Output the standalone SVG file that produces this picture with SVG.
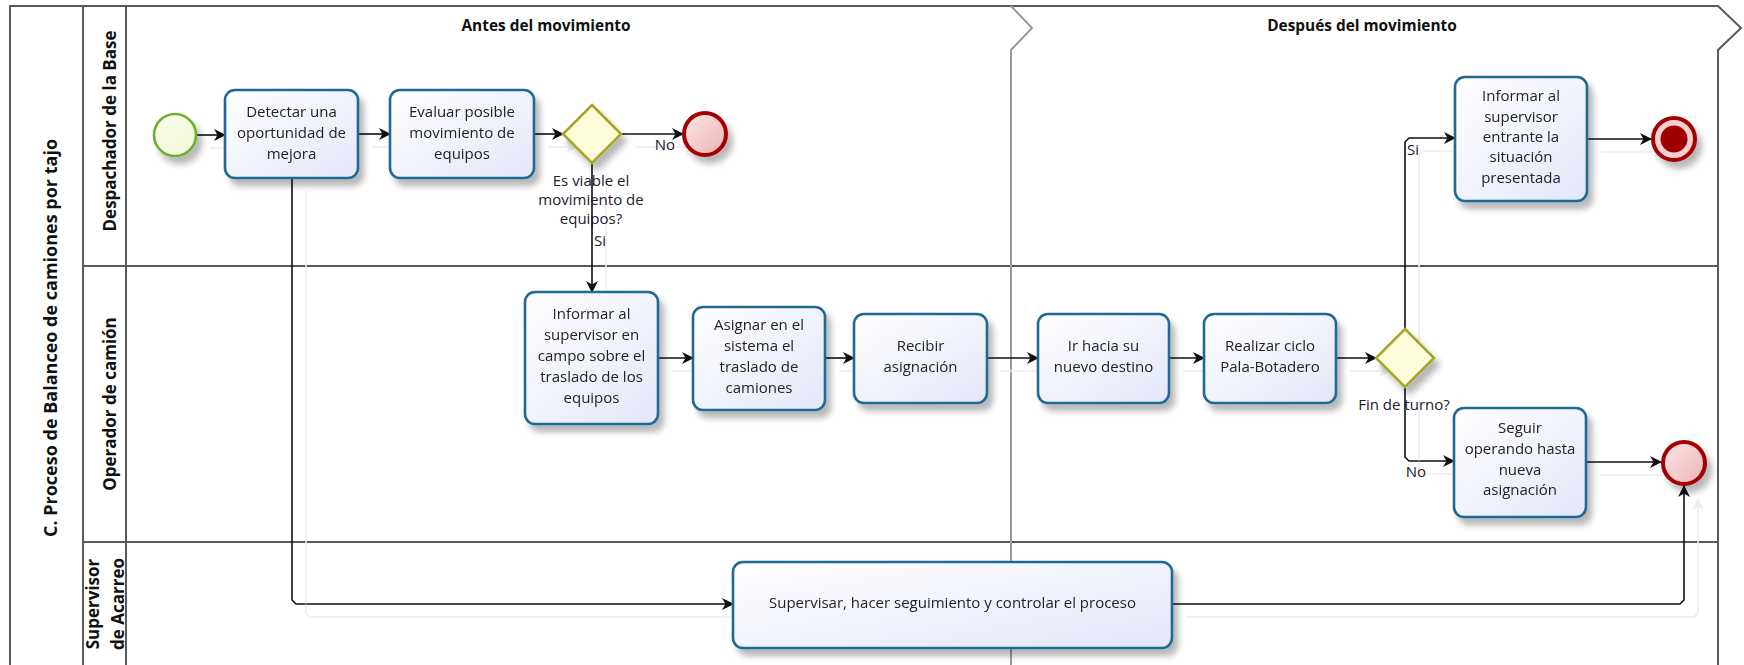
<svg xmlns="http://www.w3.org/2000/svg" width="1744" height="665" viewBox="0 0 1744 665">
<defs>
<style>
.t{font-family:"Open Sans","Liberation Sans",sans-serif;font-size:15px;fill:#22202e;text-anchor:middle}
.lbl{font-family:"Open Sans","Liberation Sans",sans-serif;font-size:15px;fill:#22202e;text-anchor:middle}
.hdr{font-family:"Open Sans","Liberation Sans",sans-serif;font-size:15.4px;font-weight:bold;fill:#111;text-anchor:middle}
.lane{font-family:"Open Sans","Liberation Sans",sans-serif;font-size:17px;font-weight:bold;fill:#111;text-anchor:middle}
.title{font-family:"Open Sans","Liberation Sans",sans-serif;font-size:18px;font-weight:bold;fill:#111;text-anchor:middle}
.task{fill:url(#gTask);stroke:#1e6a95;stroke-width:2.6}
.gw{fill:#fdfddc;stroke:#a6a626;stroke-width:2.6}
.end{fill:url(#gEnd);stroke:#a30000;stroke-width:4}
.start{fill:url(#gStart);stroke:#6cb02c;stroke-width:2.6}
.cn{fill:none;stroke:#111;stroke-width:1.6}
.pool{fill:none;stroke:#5a5a5a;stroke-width:2}
.phase{fill:none;stroke:#9a9a9a;stroke-width:2}
</style>
<linearGradient id="gTask" x1="0" y1="0" x2="1" y2="1">
<stop offset="0" stop-color="#ffffff"/><stop offset="1" stop-color="#e3e7f8"/>
</linearGradient>
<linearGradient id="gEnd" x1="0" y1="0" x2="1" y2="1">
<stop offset="0" stop-color="#fbe6e6"/><stop offset="1" stop-color="#eeb4b4"/>
</linearGradient>
<linearGradient id="gStart" x1="0" y1="0" x2="1" y2="1">
<stop offset="0" stop-color="#fbfdf0"/><stop offset="1" stop-color="#eef7d2"/>
</linearGradient>
<filter id="sh" x="-20%" y="-20%" width="150%" height="160%">
<feGaussianBlur in="SourceAlpha" stdDeviation="3"/>
<feOffset dx="5" dy="7"/>
<feComponentTransfer><feFuncA type="linear" slope="0.28"/></feComponentTransfer>
<feMerge><feMergeNode/><feMergeNode in="SourceGraphic"/></feMerge>
</filter>
<filter id="lsh" filterUnits="userSpaceOnUse" x="0" y="0" width="1744" height="665">
<feOffset in="SourceAlpha" dx="14" dy="13" result="o"/>
<feFlood flood-color="#ededed"/>
<feComposite in2="o" operator="in"/>
<feMerge><feMergeNode/><feMergeNode in="SourceGraphic"/></feMerge>
</filter>
<marker id="arr" viewBox="0 0 12 12" refX="11" refY="6" markerWidth="12" markerHeight="12" markerUnits="userSpaceOnUse" orient="auto">
<path d="M0,0 L12,6 L0,12 L3.5,6 Z" fill="#111"/>
</marker>
</defs>
<rect width="1744" height="665" fill="#fff"/>

<g id="pool">
<path class="pool" d="M10,665 V6 H1718 L1741,28 L1718,50 V665"/>
<line class="pool" x1="83" y1="6" x2="83" y2="665"/>
<line class="pool" x1="126" y1="6" x2="126" y2="665"/>
<line class="pool" x1="83" y1="266" x2="1718" y2="266"/>
<line class="pool" x1="83" y1="542" x2="1718" y2="542"/>
<path class="phase" d="M1011,6 L1032,28 L1011,50 V665"/>
<text class="title" transform="translate(57,338) rotate(-90)">C. Proceso de Balanceo de camiones por tajo</text>
<text class="hdr" x="546" y="31">Antes del movimiento</text>
<text class="hdr" x="1362" y="31">Después del movimiento</text>
</g>

<g id="lane-despachador">
<text class="lane" transform="translate(116,131) rotate(-90)">Despachador de la Base</text>
</g>
<g id="lane-operador">
<text class="lane" transform="translate(116,404) rotate(-90)">Operador de camión</text>
</g>
<g id="lane-supervisor">
<text class="lane" transform="translate(99,604) rotate(-90)">Supervisor</text>
<text class="lane" transform="translate(124,604) rotate(-90)">de Acarreo</text>
</g>

<g id="connectors" filter="url(#lsh)">
<path class="cn" d="M196,135 H225" marker-end="url(#arr)"/>
<path class="cn" d="M358,134 H390" marker-end="url(#arr)"/>
<path class="cn" d="M534,134 H563" marker-end="url(#arr)"/>
<path class="cn" d="M621,134 H683" marker-end="url(#arr)"/>
<path class="cn" d="M592,163 V292" marker-end="url(#arr)"/>
<path class="cn" d="M658,358 H693" marker-end="url(#arr)"/>
<path class="cn" d="M825,358 H854" marker-end="url(#arr)"/>
<path class="cn" d="M987,358 H1038" marker-end="url(#arr)"/>
<path class="cn" d="M1169,358 H1204" marker-end="url(#arr)"/>
<path class="cn" d="M1336,358 H1376" marker-end="url(#arr)"/>
<path class="cn" d="M1405,329 V142 L1409,138 H1455" marker-end="url(#arr)"/>
<path class="cn" d="M1405,387 V457 L1409,461 H1454" marker-end="url(#arr)"/>
<path class="cn" d="M1587,139 H1651" marker-end="url(#arr)"/>
<path class="cn" d="M1586,462 H1661" marker-end="url(#arr)"/>
<path class="cn" d="M292,178 V600 L296,604 H733" marker-end="url(#arr)"/>
<path class="cn" d="M1172,604 H1680 L1684,600 V486" marker-end="url(#arr)"/>
</g>

<g id="labels">
<text class="lbl"><tspan x="591" y="186">Es viable el</tspan><tspan x="591" y="205">movimiento de</tspan><tspan x="591" y="224">equipos?</tspan></text>
<text class="lbl" x="600" y="246">Si</text>
<text class="lbl" x="665" y="150">No</text>
<text class="lbl" x="1404" y="410">Fin de turno?</text>
<text class="lbl" x="1413" y="155">Si</text>
<text class="lbl" x="1416" y="477">No</text>
</g>

<g id="start" filter="url(#sh)"><circle class="start" cx="175" cy="135" r="21"/></g>

<g id="t-detectar" filter="url(#sh)">
<rect class="task" x="225" y="90" width="133" height="88" rx="10"/>
<text class="t"><tspan x="291.5" y="117">Detectar una</tspan><tspan x="291.5" y="138">oportunidad de</tspan><tspan x="291.5" y="159">mejora</tspan></text>
</g>
<g id="t-evaluar" filter="url(#sh)">
<rect class="task" x="390" y="90" width="144" height="88" rx="10"/>
<text class="t"><tspan x="462" y="117">Evaluar posible</tspan><tspan x="462" y="138">movimiento de</tspan><tspan x="462" y="159">equipos</tspan></text>
</g>
<g id="gw-viable" filter="url(#sh)"><path class="gw" d="M592,105 L621,134 L592,163 L563,134 Z"/></g>
<g id="end-no" filter="url(#sh)"><circle class="end" cx="705" cy="134" r="21"/></g>

<g id="t-informar-campo" filter="url(#sh)">
<rect class="task" x="525" y="292" width="133" height="132" rx="10"/>
<text class="t"><tspan x="591.5" y="319">Informar al</tspan><tspan x="591.5" y="340">supervisor en</tspan><tspan x="591.5" y="361">campo sobre el</tspan><tspan x="591.5" y="382">traslado de los</tspan><tspan x="591.5" y="403">equipos</tspan></text>
</g>
<g id="t-asignar" filter="url(#sh)">
<rect class="task" x="693" y="307" width="132" height="103" rx="10"/>
<text class="t"><tspan x="759" y="330">Asignar en el</tspan><tspan x="759" y="351">sistema el</tspan><tspan x="759" y="372">traslado de</tspan><tspan x="759" y="393">camiones</tspan></text>
</g>
<g id="t-recibir" filter="url(#sh)">
<rect class="task" x="854" y="314" width="133" height="89" rx="10"/>
<text class="t"><tspan x="920.5" y="351">Recibir</tspan><tspan x="920.5" y="372">asignación</tspan></text>
</g>
<g id="t-ir" filter="url(#sh)">
<rect class="task" x="1038" y="314" width="131" height="89" rx="10"/>
<text class="t"><tspan x="1103.5" y="351">Ir hacia su</tspan><tspan x="1103.5" y="372">nuevo destino</tspan></text>
</g>
<g id="t-realizar" filter="url(#sh)">
<rect class="task" x="1204" y="314" width="132" height="89" rx="10"/>
<text class="t"><tspan x="1270" y="351">Realizar ciclo</tspan><tspan x="1270" y="372">Pala-Botadero</tspan></text>
</g>
<g id="gw-fin" filter="url(#sh)"><path class="gw" d="M1405,329 L1434,358 L1405,387 L1376,358 Z"/></g>

<g id="t-informar-entrante" filter="url(#sh)">
<rect class="task" x="1455" y="77" width="132" height="124" rx="10"/>
<text class="t"><tspan x="1521" y="101">Informar al</tspan><tspan x="1521" y="122">supervisor</tspan><tspan x="1521" y="142">entrante la</tspan><tspan x="1521" y="162">situación</tspan><tspan x="1521" y="183">presentada</tspan></text>
</g>
<g id="end-terminate" filter="url(#sh)">
<circle cx="1674" cy="139" r="21" fill="#f6d0d0" stroke="#a30000" stroke-width="4"/>
<circle cx="1674" cy="139" r="13.5" fill="#a00000"/>
</g>

<g id="t-seguir" filter="url(#sh)">
<rect class="task" x="1454" y="408" width="132" height="109" rx="10"/>
<text class="t"><tspan x="1520" y="433">Seguir</tspan><tspan x="1520" y="454">operando hasta</tspan><tspan x="1520" y="475">nueva</tspan><tspan x="1520" y="495">asignación</tspan></text>
</g>
<g id="end-final" filter="url(#sh)"><circle class="end" cx="1684" cy="463" r="21"/></g>

<g id="t-supervisar" filter="url(#sh)">
<rect class="task" x="733" y="562" width="439" height="86" rx="10"/>
<text class="t" x="952.5" y="608">Supervisar, hacer seguimiento y controlar el proceso</text>
</g>
</svg>
